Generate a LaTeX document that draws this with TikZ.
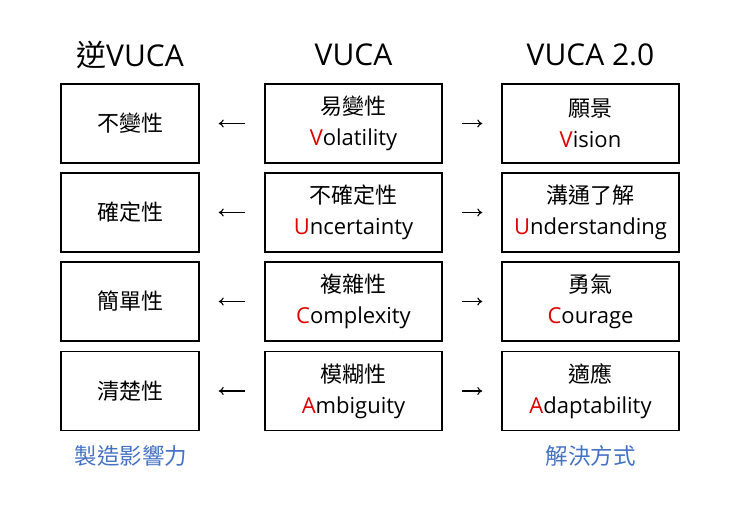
\documentclass[tikz,border=0pt]{standalone}
\usepackage{fontspec}
\setmainfont{Open Sans}
\newfontfamily\cjk{Noto Sans CJK TC}
\usetikzlibrary{arrows.meta}
\definecolor{vred}{HTML}{E00000}
\definecolor{vblue}{HTML}{4472C4}
\tikzset{
  box/.style={draw=black, line width=1.4pt, minimum height=79pt, align=center, inner sep=0pt, font=\fontsize{22}{31}\selectfont},
  sbox/.style={box, minimum width=138pt},
  wbox/.style={box, minimum width=177pt},
  head/.style={font=\fontsize{30}{32}\selectfont, inner sep=0pt},
  note/.style={font=\cjk\fontsize{22.5}{24}\selectfont, text=vblue, inner sep=0pt},
  arr/.style={-{To[length=5pt,width=8pt]}, line width=1.1pt, shorten <=19pt, shorten >=19pt}
}
\newcommand{\R}[1]{\textcolor{vred}{#1}}
\begin{document}
\begin{tikzpicture}[x=1pt,y=1pt]
\useasboundingbox (0,0) rectangle (740,508);
% headers
\node[head] (h1) at (130,453) {{\cjk 逆}VUCA};
\node[head] (h2) at (353.5,453) {VUCA};
\node[head] (h3) at (590.5,453) {VUCA 2.0};
% column 1
\node[sbox] (a1) at (130,384.5) {\cjk 不變性};
\node[sbox] (a2) at (130,295.5) {\cjk 確定性};
\node[sbox] (a3) at (130,206.5) {\cjk 簡單性};
\node[sbox] (a4) at (130,117) {\cjk 清楚性};
% column 2
\node[wbox] (b1) at (353.5,384.5) {{\cjk 易變性}\\\R{V}olatility};
\node[wbox] (b2) at (353.5,295.5) {{\cjk 不確定性}\\\R{U}ncertainty};
\node[wbox] (b3) at (353.5,206.5) {{\cjk 複雜性}\\\R{C}omplexity};
\node[wbox] (b4) at (353.5,117) {{\cjk 模糊性}\\\R{A}mbiguity};
% column 3
\node[wbox] (c1) at (590.5,384.5) {{\cjk 願景}\\\R{V}ision};
\node[wbox] (c2) at (590.5,295.5) {{\cjk 溝通了解}\\\R{U}nderstanding};
\node[wbox] (c3) at (590.5,206.5) {{\cjk 勇氣}\\\R{C}ourage};
\node[wbox] (c4) at (590.5,117) {{\cjk 適應}\\\R{A}daptability};
% arrows
\foreach \i in {1,2,3,4}{
  \draw[arr] (b\i) -- (a\i);
  \draw[arr] (b\i) -- (c\i);
}
% notes
\node[note] (n1) at (131,52) {製造影響力};
\node[note] (n2) at (590.5,52) {解決方式};
\end{tikzpicture}
\end{document}
